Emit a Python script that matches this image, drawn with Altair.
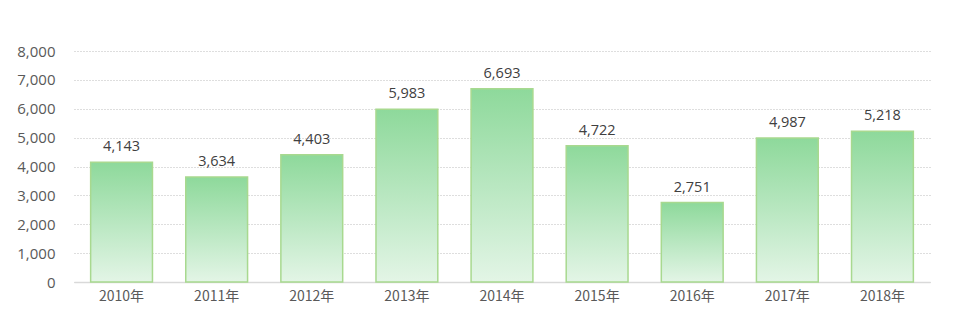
import altair as alt
import pandas as pd

years = ["2010年", "2011年", "2012年", "2013年", "2014年", "2015年", "2016年", "2017年", "2018年"]
values = [4143, 3634, 4403, 5983, 6693, 4722, 2751, 4987, 5218]

df = pd.DataFrame({"year": years, "value": values})

base = alt.Chart(df).encode(
    x=alt.X("year:N", sort=years, title=None,
            scale=alt.Scale(paddingInner=0.35, paddingOuter=0.175),
            axis=alt.Axis(labelAngle=0, labelFont="Noto Sans CJK SC", labelFontSize=14,
                          labelColor="#595959", labelPadding=7, ticks=False,
                          domainColor="#d9d9d9", domainWidth=1.5, grid=False)),
    y=alt.Y("value:Q", title=None,
            scale=alt.Scale(domain=[0, 8000]),
            axis=alt.Axis(values=[0, 1000, 2000, 3000, 4000, 5000, 6000, 7000, 8000],
                          format=",.0f", labelFont="Open Sans", labelFontSize=15,
                          labelColor="#595959", labelPadding=19, ticks=False, domain=False,
                          gridColor="#bdbdbd", gridDash=[1, 2], gridWidth=1)),
)

bars = base.mark_bar(
    color=alt.Gradient(
        gradient="linear",
        stops=[alt.GradientStop(color="#e3f5e6", offset=0),
               alt.GradientStop(color="#8ed99b", offset=1)],
        x1=1, x2=1, y1=1, y2=0),
    stroke="#a8d98f", strokeWidth=1.5,
)

labels = base.mark_text(baseline="bottom", dy=-8, font="Open Sans", fontSize=14.5,
                        color="#404040").encode(text=alt.Text("value:Q", format=",.0f"))

chart = (bars + labels).properties(
    width=856, height=231,
    autosize=alt.AutoSizeParams(type="none"),
    padding={"left": 74, "top": 51, "right": 30, "bottom": 42},
).configure(background="white", view=alt.ViewConfig(stroke=None, strokeWidth=0))

chart.save("out.html", embed_options={"renderer": "svg", "actions": False})
